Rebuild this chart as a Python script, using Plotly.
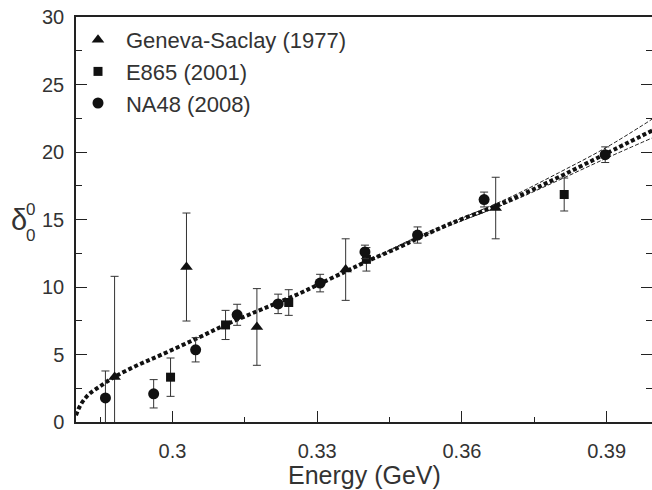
import plotly.graph_objects as go

# ---------------- data ----------------
gs_x = [0.2880, 0.3029, 0.3175, 0.3359, 0.3670]
gs_y = [3.33, 11.48, 7.04, 11.29, 15.85]
gs_err = [7.46, 4.00, 2.84, 2.28, 2.28]

e865_x = [0.2996, 0.3110, 0.3241, 0.3402, 0.3812]
e865_y = [3.32, 7.19, 8.85, 12.05, 16.85]
e865_err = [1.42, 1.08, 0.95, 0.87, 1.22]

na48_x = [0.2861, 0.2961, 0.3048, 0.3134, 0.3219, 0.3306, 0.3399, 0.3508, 0.3646, 0.3897]
na48_y = [1.78, 2.09, 5.35, 7.94, 8.75, 10.29, 12.60, 13.85, 16.48, 19.80]
na48_err = [2.00, 1.05, 0.90, 0.78, 0.72, 0.65, 0.50, 0.60, 0.55, 0.58]

curve_x = [0.2800, 0.2805, 0.2810, 0.2820, 0.2830, 0.2850, 0.2880, 0.2927, 0.2975, 0.3048,
           0.3110, 0.3175, 0.3219, 0.3265, 0.3306, 0.3359, 0.3400, 0.3470, 0.3508, 0.3580,
           0.3670, 0.3740, 0.3810, 0.3897, 0.3995]
curve_mid = [0.50, 0.95, 1.30, 1.80, 2.15, 2.65, 3.35, 4.20, 4.95, 6.15,
             7.20, 8.20, 8.85, 9.55, 10.25, 11.15, 11.85, 12.95, 13.60, 14.75,
             16.00, 17.10, 18.30, 19.85, 21.60]

band_x = [0.3400, 0.3500, 0.3600, 0.3700, 0.3800, 0.3900, 0.3995]
band_upper = [11.85, 13.60, 15.10, 16.65, 18.45, 20.35, 22.45]
band_lower = [11.85, 13.50, 14.90, 16.30, 17.90, 19.55, 21.05]

x_ticks = [0.30, 0.33, 0.36, 0.39]
x_ticklabels = ["0.3", "0.33", "0.36", "0.39"]
y_ticks = [0, 5, 10, 15, 20, 25, 30]

# ---------------- figure ----------------
fig = go.Figure()

ink = "#111111"
errc = "#333333"
txt = "#333333"
axc = "#222222"

for by in (band_upper, band_lower):
    fig.add_trace(go.Scatter(x=band_x, y=by, mode="lines", showlegend=False,
                             line=dict(color="#222222", width=1, dash="4px,2px", shape="spline"),
                             hoverinfo="skip"))

fig.add_trace(go.Scatter(x=curve_x, y=curve_mid, mode="lines", showlegend=False,
                         line=dict(color=ink, width=4, dash="4px,2.5px", shape="spline"),
                         hoverinfo="skip"))

def add_series(xs, ys, es, name, symbol, size, grp):
    fig.add_trace(go.Scatter(
        x=xs, y=ys, mode="markers", name="\u00a0\u200a" + name, legendgroup=grp,
        marker=dict(symbol=symbol, size=size, color=ink, line=dict(width=0)),
        error_y=dict(type="data", array=es, visible=True, color=errc, thickness=1, width=4),
    ))

add_series(gs_x, gs_y, gs_err, "Geneva-Saclay (1977)", "triangle-up", 11, "g1")
add_series(e865_x, e865_y, e865_err, "E865 (2001)", "square", 9, "g2")
add_series(na48_x, na48_y, na48_err, "NA48 (2008)", "circle", 11, "g3")

PW, PH = 576.0, 405.0

fig.update_layout(
    width=652, height=490,
    margin=dict(l=76, r=0, t=17, b=68, autoexpand=False),
    paper_bgcolor="white", plot_bgcolor="white",
    font=dict(family="Liberation Sans, Arial, sans-serif", color=txt, size=20),
    showlegend=True,
    legend=dict(x=2 / PW, y=1.0 - 2 / PH, xanchor="left", yanchor="top",
                xref="paper", yref="paper",
                bgcolor="rgba(0,0,0,0)", borderwidth=0,
                font=dict(size=22, color=txt), tracegroupgap=0,
                itemwidth=30),
)

fig.update_xaxes(
    range=[0.28, 0.3994], showgrid=False, zeroline=False, automargin=False,
    showline=True, linecolor=axc, linewidth=1.5, mirror=True,
    ticks="inside", ticklen=11, tickwidth=1.2, tickcolor=axc,
    tickvals=x_ticks, ticktext=x_ticklabels,
    tickfont=dict(size=20, color=txt), ticklabelstandoff=10,
    minor=dict(ticks="inside", ticklen=5, tickwidth=1.2, tickcolor=axc, dtick=0.015, tick0=0.285),
)
fig.update_yaxes(
    range=[0, 30], showgrid=False, zeroline=False, automargin=False,
    showline=True, linecolor=axc, linewidth=1.5, mirror="ticks",
    ticks="inside", ticklen=11, tickwidth=1.2, tickcolor=axc,
    tickvals=y_ticks, tickfont=dict(size=20, color=txt),
    ticklabelstandoff=6,
    minor=dict(ticks="inside", ticklen=6, tickwidth=1.2, tickcolor=axc, dtick=2.5, tick0=0),
)

# x-axis title
fig.add_annotation(text="Energy (GeV)", xref="paper", yref="paper", x=0.5, y=(421.7 - 475) / PH,
                   showarrow=False, font=dict(size=25, color=txt), xanchor="center", yanchor="middle")

# y-axis title: delta with stacked sub/superscript
fig.add_annotation(text="δ", xref="paper", yref="paper", x=(-76 + 18.5) / PW, y=(421.7 - 219.5) / PH,
                   showarrow=False, font=dict(size=29, color=txt), xanchor="center", yanchor="middle")
fig.add_annotation(text="0", xref="paper", yref="paper", x=(-76 + 30.5) / PW, y=(421.7 - 209) / PH,
                   showarrow=False, font=dict(size=17, color=txt), xanchor="center", yanchor="middle")
fig.add_annotation(text="0", xref="paper", yref="paper", x=(-76 + 30.5) / PW, y=(421.7 - 235) / PH,
                   showarrow=False, font=dict(size=17, color=txt), xanchor="center", yanchor="middle")

fig.write_html("out.html",
               config={"displayModeBar": False},
               post_script="document.body.style.margin='0px';document.body.style.overflow='hidden';")
